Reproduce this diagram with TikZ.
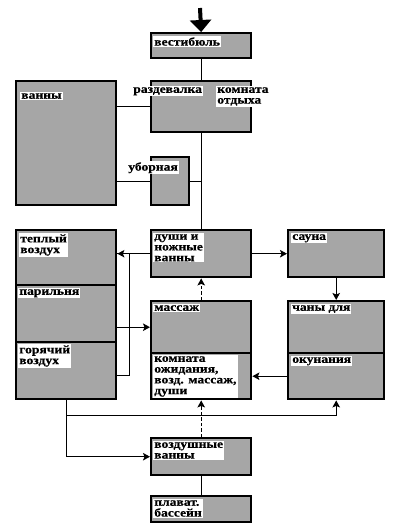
\documentclass[tikz,border=0pt]{standalone}
\usepackage{fontspec}
\setmainfont{Liberation Serif}[FakeStretch=1.17]
\usetikzlibrary{arrows.meta,calc}
\begin{document}
\begin{tikzpicture}[x=1pt,y=-1pt,
  room/.style={draw=black,line width=2.4pt,fill=black!35,rectangle,inner sep=0pt,anchor=north west},
  lbl/.style={fill=white,inner sep=1.1pt,anchor=north west,font=\bfseries\fontsize{11.6}{10.8}\selectfont\addfontfeature{FakeBold=0.5},align=left},
  conn/.style={line width=1.1pt},
  arr/.style={conn,-{Stealth[length=7pt,width=7.5pt,inset=1.5pt]}},
  dsh/.style={arr,dash pattern=on 3.5pt off 2pt},
  bigarr/.style={line width=4pt,-{Triangle[length=12pt,width=21pt]}}]
\useasboundingbox (0,0) rectangle (400,528);
% rooms
\node[room,minimum width=100pt,minimum height=25pt] (vest) at (150,32) {};
\node[room,minimum width=100pt,minimum height=51pt] (razd) at (150,80) {};
\node[room,minimum width=100pt,minimum height=124pt] (vanny) at (15,80) {};
\node[room,minimum width=38pt,minimum height=48pt] (ubor) at (150,156) {};
\node[room,minimum width=100pt,minimum height=47pt] (dushi) at (150,229) {};
\node[room,minimum width=100pt,minimum height=55pt] (tepl) at (15,229) {};
\node[room,minimum width=100pt,minimum height=57pt] (paril) at (15,284) {};
\node[room,minimum width=100pt,minimum height=57pt] (gor) at (15,341) {};
\node[room,minimum width=100pt,minimum height=52pt] (mass) at (150,300) {};
\node[room,minimum width=100pt,minimum height=46pt] (komn) at (150,352) {};
\node[room,minimum width=96pt,minimum height=47pt] (sauna) at (287,229) {};
\node[room,minimum width=96pt,minimum height=52pt] (chany) at (287,300) {};
\node[room,minimum width=96pt,minimum height=46pt] (okun) at (287,352) {};
\node[room,minimum width=100pt,minimum height=37pt] (vozdv) at (150,437) {};
\node[room,minimum width=100pt,minimum height=26pt] (bass) at (150,495) {};
% labels
\node[lbl] (lvest) at (153,36) {вестибюль};
\node[lbl] (lrazd) at (132,86) {раздевалка};
\node[lbl] (lotd) at (216,86) {комната\\отдыха};
\node[lbl] (lvanny) at (20,92) {ванны};
\node[lbl] (lubor) at (127,161) {уборная};
\node[lbl] (ldushi) at (153,233) {души и\\ножные\\ванны};
\node[lbl] (ltepl) at (19,233) {теплый\\воздух};
\node[lbl] (lparil) at (18,288) {парильня};
\node[lbl] (lgor) at (18,344) {горячий\\воздух};
\node[lbl] (lmass) at (153,304) {массаж};
\node[lbl] (lkomn) at (153,355) {комната\\ожидания,\\возд. массаж,\\души};
\node[lbl] (lsauna) at (291,233) {сауна};
\node[lbl] (lchany) at (291,304) {чаны для};
\node[lbl] (lokun) at (291,356) {окунания};
\node[lbl] (lvozdv) at (153,441) {воздушные\\ванны};
\node[lbl] (lbass) at (153,499) {плават.\\бассейн};
% connectors
\coordinate (entry) at (200,8);
\draw[bigarr] (entry) -- (vest.north);
\draw[conn] (vest.south) -- (razd.north);
\draw[conn] (vanny.east |- razd.west) -- (razd.west);
\draw[conn] (vanny.east |- ubor.west) -- (ubor.west);
\draw[conn] (ubor.east) -- (ubor.east -| razd.south);
\draw[conn] (razd.south) -- (dushi.north);
\draw[arr] (dushi.west) -- (dushi.west -| tepl.east);
\draw[arr] (dushi.east) -- (sauna.west);
\draw[arr] (sauna.south) -- (chany.north);
\draw[dsh] (mass.north) -- (dushi.south);
\coordinate (bt) at ($(tepl.east)+(0,-4)$);
\coordinate (bb) at ($(gor.east)+(0,5)$);
\draw[conn] (bt) -- ++(12,0) |- (bb);
\draw[arr] (paril.east |- mass.west) -- (mass.west);
\draw[arr] (okun.west) -- (komn.east);
\coordinate (split) at ($(gor.south)+(0,15)$);
\draw[arr] (gor.south) |- (vozdv.west);
\draw[arr] (split) -| (okun.south);
\draw[dsh] (vozdv.north) -- (komn.south);
\draw[conn] (vozdv.south) -- (bass.north);
\end{tikzpicture}
\end{document}
